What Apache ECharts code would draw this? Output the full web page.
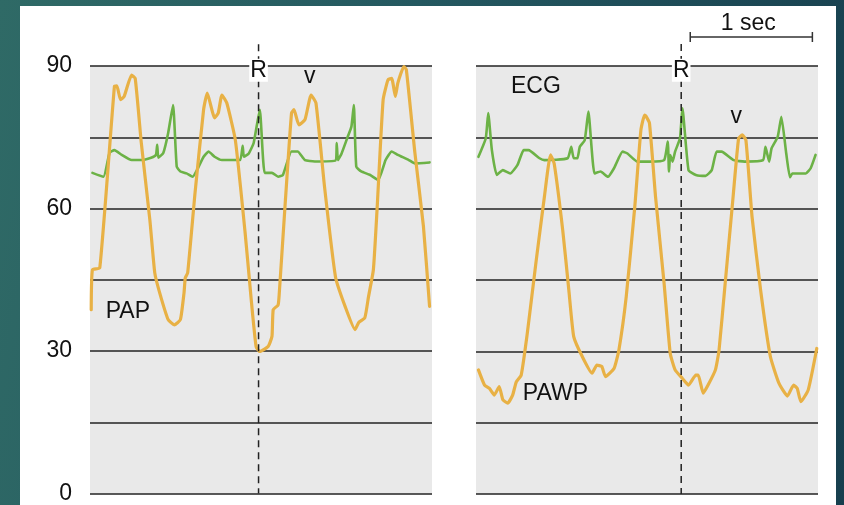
<!DOCTYPE html>
<html><head><meta charset="utf-8">
<script src="https://cdn.jsdelivr.net/npm/echarts@6/dist/echarts.min.js"></script>
<style>
html,body{margin:0;padding:0;width:844px;height:505px;overflow:hidden;
 background:linear-gradient(100deg,#2f6a66 0%,#245860 45%,#173f4e 100%);}
#panel{position:absolute;left:20px;top:6px;width:816px;height:499px;background:#fff;}
#chart{position:absolute;left:0;top:0;width:844px;height:505px;}
</style></head>
<body><div id="panel"></div><div id="chart"></div>
<script>
// y ticks (mmHg) that carry a label
const yLabels = [0, 30, 60, 90];
// time in seconds from left edge of each panel
const papT = [0.01,0.02,0.08,0.20,0.22,0.25,0.28,0.34,0.37,0.42,0.49,0.53,0.57,0.64,0.69,0.74,0.77,0.78,0.80,0.86,0.93,0.96,1.02,1.05,1.08,1.12,1.19,1.27,1.32,1.36,1.39,1.46,1.49,1.50,1.54,1.55,1.60,1.65,1.67,1.71,1.76,1.81,1.85,1.92,2.01,2.09,2.17,2.20,2.25,2.28,2.32,2.35,2.40,2.44,2.47,2.50,2.52,2.57,2.59,2.66,2.73,2.78];
const papV = [38.7,47.1,47.5,85.7,85.8,82.9,83.6,88.1,87.4,73.8,57.6,46.5,42.3,36.6,35.5,36.6,42.3,45.4,46.5,63.3,80.8,84.3,79.1,80.1,83.9,82.2,74.4,54.9,40.8,30.9,29.9,31.0,33.1,38.7,39.7,42.3,61.8,80.1,80.8,77.6,78.7,83.9,82.2,64.6,45.6,39.3,34.5,36.0,37.0,41.4,47.1,59.7,82.9,87.1,87.4,83.6,86.4,89.9,89.2,71.7,56.2,39.4];
const ecgLT = [0.02,0.11,0.16,0.20,0.26,0.34,0.42,0.50,0.54,0.55,0.56,0.60,0.64,0.68,0.71,0.74,0.79,0.84,0.89,0.93,0.97,1.02,1.08,1.16,1.23,1.25,1.26,1.30,1.34,1.39,1.43,1.49,1.54,1.58,1.65,1.70,1.76,1.84,2.01,2.02,2.03,2.06,2.11,2.14,2.16,2.18,2.22,2.29,2.36,2.42,2.47,2.52,2.61,2.66,2.78];
const ecgLV = [67.5,66.7,71.7,72.3,71.3,70.2,70.2,70.7,71.3,73.4,70.7,71.7,75.9,81.8,68.8,67.8,67.4,66.7,68.8,70.9,72.0,70.9,70.2,70.2,70.2,73.2,70.9,71.6,73.8,80.8,67.5,67.5,66.7,67.1,72.0,72.0,70.2,69.9,70.1,73.8,70.2,71.6,75.1,77.2,81.8,68.8,67.8,67.1,66.0,70.2,72.0,71.3,70.2,69.5,69.7];
const pawpT = [0.02,0.07,0.11,0.15,0.19,0.22,0.26,0.30,0.33,0.37,0.42,0.49,0.56,0.61,0.64,0.71,0.76,0.80,0.87,0.95,0.99,1.03,1.06,1.13,1.17,1.23,1.30,1.35,1.38,1.39,1.42,1.47,1.54,1.59,1.63,1.69,1.74,1.80,1.82,1.86,1.90,1.96,1.99,2.04,2.10,2.15,2.18,2.21,2.26,2.33,2.41,2.48,2.55,2.60,2.63,2.66,2.72,2.79];
const pawpV = [26.1,22.9,22.2,20.8,22.6,19.8,19.1,20.8,23.6,25.0,33.8,48.5,62.5,71.3,69.5,55.5,42.9,33.1,28.9,25.4,27.1,26.8,24.7,26.4,30.3,41.5,60.4,76.5,79.7,79.5,78.0,62.5,44.3,29.6,26.1,24.3,22.9,25.0,25.0,21.2,22.9,26.1,30.3,44.3,61.1,74.8,75.5,74.4,58.3,42.9,28.9,23.3,20.6,22.9,22.2,19.4,21.9,30.6];
const ecgRT = [0.02,0.08,0.10,0.13,0.17,0.22,0.28,0.34,0.39,0.43,0.52,0.56,0.75,0.78,0.80,0.83,0.85,0.89,0.92,0.97,1.02,1.08,1.13,1.20,1.24,1.32,1.42,1.54,1.57,1.58,1.59,1.61,1.63,1.67,1.69,1.74,1.80,1.88,1.93,1.97,2.01,2.11,2.20,2.35,2.37,2.40,2.42,2.47,2.50,2.54,2.57,2.59,2.70,2.74,2.78];
const ecgRV = [70.9,74.8,80.1,72.3,67.1,68.1,67.4,69.2,72.3,72.3,70.6,70.2,70.6,73.0,70.6,70.6,73.0,74.4,80.4,67.4,67.8,66.7,68.5,72.0,71.6,69.9,69.9,70.2,74.1,67.8,71.3,69.9,72.0,74.8,81.1,68.1,67.1,66.9,68.1,72.0,72.0,70.2,69.9,70.2,73.0,69.9,72.7,75.1,79.3,71.6,66.6,67.4,67.4,68.5,71.3];
// R wave markers (s) per panel
const rTimes = [1.38, 1.68];
// annotations: [panel, t, value, text]
const notes = [[0,1.38,89.1,'R'],[0,1.80,87.7,'v'],[0,0.31,38.3,'PAP'],[1,1.68,89.1,'R'],[1,0.49,85.6,'ECG'],[1,2.13,79.3,'v'],[1,0.65,21.2,'PAWP']];
// 1-second scale bar on right panel
const barStart = 1.754, barLen = 1.0, barLevel = 96.1, barLabel = '1 sec', barLabelLevel = 98.9;

const zip = (a,b) => a.map((t,i)=>[t,b[i]]);
const FONT = '"Liberation Sans", Arial, Helvetica, sans-serif';
const chart = echarts.init(document.getElementById('chart'), null, {renderer:'canvas'});
const grids = [
  {left:90, top:66, width:342, height:428, show:true, backgroundColor:'#e9e9e9', borderWidth:0},
  {left:476, top:66, width:342, height:428, show:true, backgroundColor:'#e9e9e9', borderWidth:0}
];
const xAxes = [0,1].map(i=>({type:'value', gridIndex:i, min:0, max:2.8, show:false}));
const yAxes = [0,1].map(i=>({type:'value', gridIndex:i, min:0, max:90, interval:15,
  axisLine:{show:false}, axisTick:{show:false},
  splitLine:{show:true, lineStyle:{color:'#222', width:1.6}},
  axisLabel:{show:i===0, margin:18, fontSize:23, color:'#111', fontFamily:FONT,
    formatter:v=> yLabels.includes(v) ? String(v) : ''}}));
const mk = (i, data, color, w) => ({type:'line', xAxisIndex:i, yAxisIndex:i, data, symbol:'none',
  lineStyle:{color, width:w, join:'round', cap:'round'}, smooth:0.15, animation:false});
chart.setOption({
  animation:false,
  grid:grids, xAxis:xAxes, yAxis:yAxes,
  series:[
    mk(0, zip(ecgLT,ecgLV), '#6cb246', 2.6),
    mk(0, zip(papT,papV), '#e8b145', 3.2),
    mk(1, zip(ecgRT,ecgRV), '#6cb246', 2.6),
    mk(1, zip(pawpT,pawpV), '#e8b145', 3.2)
  ]
});
const px = (g, t, v) => chart.convertToPixel({gridIndex:g}, [t, v]);
const gr = [];
rTimes.forEach((t,g)=>{
  const top = px(g, t, 94.6), bot = px(g, t, 0);
  gr.push({type:'line', z:50, shape:{x1:top[0], y1:top[1], x2:bot[0], y2:bot[1]},
    style:{stroke:'#222', lineWidth:1.5, lineDash:[7,5]}});
});
notes.forEach(([g,t,v,s])=>{
  const p = px(g,t,v);
  gr.push({type:'text', z:60, x:p[0], y:p[1], style:{text:s, fontSize:23, fontFamily:FONT, fill:'#111',
    align:'center', verticalAlign:'middle',
    backgroundColor: s==='R' ? '#ffffff' : null, padding: s==='R' ? [0,1] : 0}});
});
const b0 = px(1, barStart, barLevel), b1 = px(1, barStart+barLen, barLevel), bl = px(1, barStart+barLen/2, barLabelLevel);
gr.push({type:'line', z:50, shape:{x1:b0[0], y1:b0[1], x2:b1[0], y2:b1[1]}, style:{stroke:'#333', lineWidth:1.5}});
gr.push({type:'line', z:50, shape:{x1:b0[0], y1:b0[1]-5, x2:b0[0], y2:b0[1]+5}, style:{stroke:'#333', lineWidth:1.5}});
gr.push({type:'line', z:50, shape:{x1:b1[0], y1:b1[1]-5, x2:b1[0], y2:b1[1]+5}, style:{stroke:'#333', lineWidth:1.5}});
gr.push({type:'text', z:60, x:bl[0]-3, y:bl[1], style:{text:barLabel, fontSize:23, fontFamily:FONT, fill:'#111', align:'center', verticalAlign:'middle'}});
chart.setOption({graphic:gr});
</script>
</body></html>
